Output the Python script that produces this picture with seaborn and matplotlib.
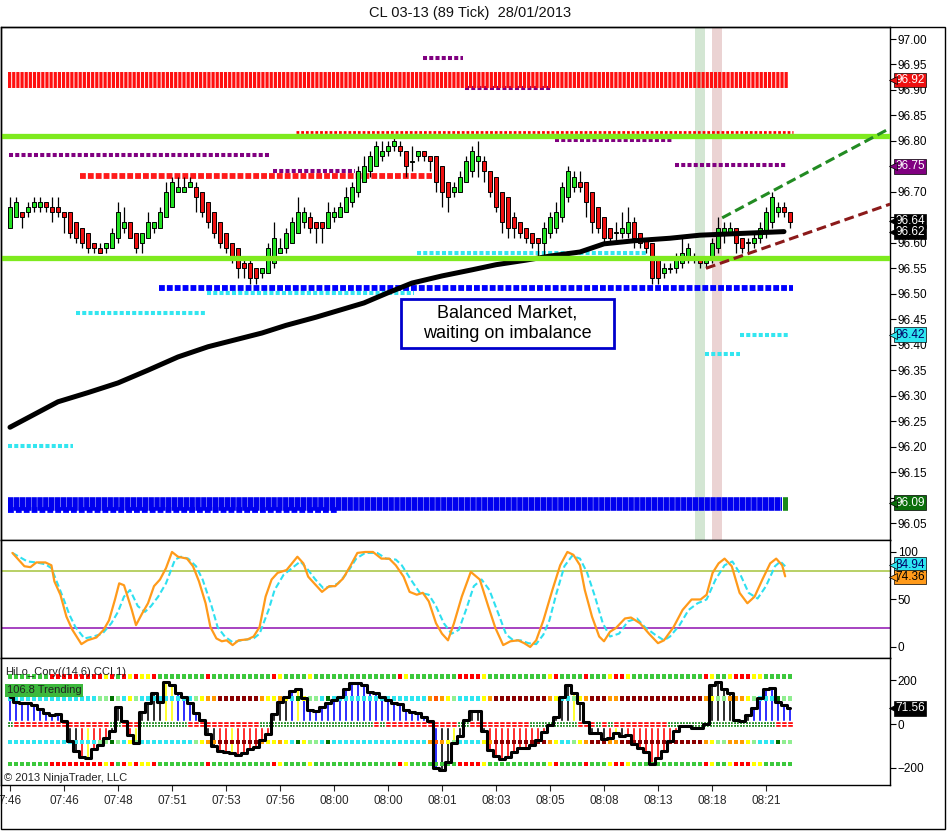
import matplotlib
matplotlib.use("Agg")
import matplotlib.pyplot as plt
import matplotlib.transforms as mtransforms
from matplotlib.patches import Rectangle
import numpy as np
import seaborn as sns

sns.set_style("white")
plt.rcParams["font.family"] = ["Liberation Sans", "DejaVu Sans"]

# ------------------------------ data (one entry per 89-tick bar)

OPEN = [96.63, 96.65, 96.66, 96.66, 96.67, 96.67, 96.68, 96.67, 96.67, 96.66,
        96.66, 96.64, 96.63, 96.62, 96.60, 96.59, 96.59, 96.59, 96.61, 96.63,
        96.64, 96.62, 96.60, 96.61, 96.63, 96.63, 96.65, 96.67, 96.70, 96.70,
        96.71, 96.71, 96.70, 96.68, 96.66, 96.64, 96.62, 96.60, 96.59, 96.56,
        96.56, 96.55, 96.54, 96.54, 96.56, 96.58, 96.59, 96.60, 96.62, 96.64,
        96.65, 96.64, 96.64, 96.63, 96.65, 96.65, 96.66, 96.68, 96.70, 96.72,
        96.74, 96.75, 96.77, 96.78, 96.79, 96.79, 96.78, 96.76, 96.77, 96.78,
        96.77, 96.77, 96.75, 96.72, 96.70, 96.70, 96.72, 96.74, 96.76, 96.76,
        96.74, 96.73, 96.70, 96.69, 96.65, 96.64, 96.63, 96.62, 96.61, 96.60,
        96.62, 96.63, 96.65, 96.69, 96.71, 96.72, 96.72, 96.70, 96.67, 96.65,
        96.63, 96.62, 96.62, 96.62, 96.64, 96.62, 96.61, 96.60, 96.57, 96.54,
        96.55, 96.55, 96.56, 96.57, 96.57, 96.57, 96.56, 96.57, 96.59, 96.62,
        96.62, 96.63, 96.61, 96.60, 96.60, 96.61, 96.62, 96.64, 96.66, 96.67,
        96.66]
HIGH = [96.69, 96.69, 96.66, 96.68, 96.69, 96.69, 96.68, 96.69, 96.69, 96.66,
        96.66, 96.64, 96.63, 96.62, 96.60, 96.60, 96.60, 96.63, 96.68, 96.67,
        96.64, 96.62, 96.62, 96.66, 96.64, 96.67, 96.72, 96.73, 96.73, 96.73,
        96.73, 96.72, 96.70, 96.68, 96.66, 96.64, 96.62, 96.60, 96.59, 96.57,
        96.57, 96.55, 96.55, 96.60, 96.64, 96.61, 96.63, 96.65, 96.69, 96.67,
        96.66, 96.64, 96.64, 96.68, 96.67, 96.68, 96.71, 96.72, 96.75, 96.77,
        96.78, 96.80, 96.80, 96.80, 96.81, 96.80, 96.78, 96.79, 96.78, 96.78,
        96.77, 96.77, 96.75, 96.72, 96.72, 96.74, 96.77, 96.79, 96.80, 96.77,
        96.74, 96.73, 96.70, 96.69, 96.66, 96.64, 96.63, 96.62, 96.61, 96.64,
        96.66, 96.68, 96.72, 96.75, 96.74, 96.74, 96.72, 96.70, 96.67, 96.65,
        96.63, 96.64, 96.66, 96.67, 96.65, 96.62, 96.61, 96.60, 96.57, 96.56,
        96.56, 96.58, 96.61, 96.60, 96.58, 96.57, 96.57, 96.61, 96.65, 96.64,
        96.64, 96.63, 96.61, 96.61, 96.62, 96.64, 96.67, 96.70, 96.68, 96.68,
        96.66]
LOW = [96.63, 96.65, 96.63, 96.65, 96.66, 96.66, 96.66, 96.64, 96.65, 96.62,
       96.61, 96.60, 96.59, 96.58, 96.58, 96.58, 96.58, 96.59, 96.60, 96.62,
       96.61, 96.58, 96.58, 96.61, 96.62, 96.63, 96.65, 96.67, 96.70, 96.70,
       96.71, 96.66, 96.65, 96.63, 96.61, 96.59, 96.58, 96.56, 96.53, 96.53,
       96.52, 96.52, 96.53, 96.54, 96.55, 96.58, 96.58, 96.60, 96.62, 96.63,
       96.62, 96.60, 96.60, 96.63, 96.64, 96.65, 96.66, 96.67, 96.69, 96.72,
       96.73, 96.75, 96.76, 96.77, 96.78, 96.77, 96.73, 96.74, 96.76, 96.76,
       96.74, 96.70, 96.67, 96.66, 96.69, 96.70, 96.72, 96.73, 96.73, 96.72,
       96.69, 96.66, 96.62, 96.61, 96.61, 96.61, 96.60, 96.59, 96.57, 96.57,
       96.61, 96.62, 96.64, 96.68, 96.70, 96.70, 96.65, 96.62, 96.62, 96.60,
       96.60, 96.60, 96.61, 96.61, 96.59, 96.59, 96.58, 96.52, 96.52, 96.53,
       96.54, 96.54, 96.55, 96.56, 96.56, 96.55, 96.55, 96.56, 96.58, 96.60,
       96.62, 96.58, 96.58, 96.58, 96.59, 96.60, 96.61, 96.63, 96.65, 96.65,
       96.63]
CLOSE = [96.67, 96.68, 96.65, 96.67, 96.68, 96.68, 96.67, 96.66, 96.66, 96.65,
         96.62, 96.61, 96.60, 96.59, 96.59, 96.58, 96.60, 96.62, 96.66, 96.64,
         96.61, 96.59, 96.62, 96.64, 96.64, 96.66, 96.70, 96.72, 96.71, 96.71,
         96.72, 96.69, 96.66, 96.64, 96.62, 96.60, 96.59, 96.57, 96.55, 96.55,
         96.53, 96.53, 96.55, 96.59, 96.61, 96.59, 96.62, 96.64, 96.66, 96.66,
         96.63, 96.63, 96.63, 96.66, 96.66, 96.67, 96.69, 96.71, 96.74, 96.75,
         96.77, 96.79, 96.78, 96.79, 96.80, 96.78, 96.75, 96.76, 96.78, 96.77,
         96.76, 96.72, 96.70, 96.69, 96.71, 96.73, 96.76, 96.78, 96.77, 96.74,
         96.70, 96.67, 96.64, 96.63, 96.63, 96.62, 96.61, 96.60, 96.60, 96.63,
         96.65, 96.66, 96.71, 96.74, 96.73, 96.71, 96.68, 96.64, 96.63, 96.61,
         96.61, 96.62, 96.63, 96.64, 96.61, 96.60, 96.59, 96.53, 96.53, 96.55,
         96.55, 96.57, 96.58, 96.59, 96.57, 96.56, 96.57, 96.60, 96.63, 96.63,
         96.63, 96.60, 96.59, 96.60, 96.61, 96.63, 96.66, 96.69, 96.67, 96.66,
         96.64]

TIME_LABELS = ["7:46", "07:46", "07:48", "07:51", "07:53", "07:56", "08:00", "08:00",
               "08:01", "08:03", "08:05", "08:08", "08:13", "08:18", "08:21"]

# moving average (black) read at a few bars
MA_POS = [0, 4, 8, 13, 18, 23, 28, 33, 37, 42, 46, 51, 55, 59, 63, 67, 72, 77, 81,
          86, 90, 95, 99, 104, 110, 115, 121, 125, 129]
MA_VAL = [96.238, 96.263, 96.288, 96.306, 96.325, 96.350, 96.376, 96.396, 96.408,
          96.423, 96.438, 96.454, 96.468, 96.482, 96.502, 96.521, 96.535, 96.547,
          96.557, 96.566, 96.574, 96.582, 96.598, 96.604, 96.609, 96.615, 96.618,
          96.620, 96.622]

# horizontal levels: price, first bar, last bar, kind
LEVEL_PRICE = [96.963, 96.904, 96.817, 96.772, 96.732, 96.741, 96.802, 96.753,
               96.580, 96.511, 96.501, 96.462, 96.419, 96.382, 96.201, 96.076]
LEVEL_START = [68.8, 75.8, 47.7, -0.2, 11.7, 43.8, 90.8, 110.8,
               67.8, 24.8, 32.8, 11.0, 121.7, 115.8, -0.3, -0.3]
LEVEL_END = [75.5, 90.3, 130.5, 43.5, 70.3, 57.5, 110.5, 129.3,
             106.2, 130.5, 67.3, 32.5, 129.7, 121.7, 10.5, 54.7]
LEVEL_KIND = ["purple", "purple", "red_thin", "purple", "red", "purple", "purple", "purple",
              "cyan", "blue", "cyan", "cyan", "cyan", "cyan", "cyan", "blue"]

BAND_PRICE = [96.919, 96.088]
BAND_START = [-0.3, -0.3]
BAND_END = [129.7, 128.7]

GREEN_LEVELS = [96.810, 96.570]

TREND_GREEN = ([118.7, 146.7], [96.649, 96.825])
TREND_RED = ([116.0, 146.7], [96.550, 96.676])

SHADE_GREEN = (114.2, 115.9)
SHADE_RED = (117.0, 118.7)

# stochastics
K_POS = [0.4, 2.4, 3.4, 4.4, 5.9, 6.9, 7.4, 8.4, 9.4, 10.4, 11.9, 12.9, 14.4, 15.6, 16.5,
         17.5, 18.2, 19.0, 20.3, 21.0, 22.0, 23.0, 24.0, 25.0, 26.0, 27.0, 28.0, 29.5, 30.5,
         31.5, 32.6, 33.4, 34.4, 35.3, 36.1, 37.1, 38.1, 39.6, 40.6, 41.6, 42.6, 43.6, 44.6,
         46.1, 47.9, 48.9, 49.7, 50.7, 52.0, 53.2, 54.2, 55.5, 56.7, 57.9, 59.2, 60.5, 61.9,
         63.2, 64.3, 65.6, 66.6, 67.8, 68.8, 69.8, 71.0, 72.0, 73.0, 74.0, 75.3, 76.8, 78.3,
         79.7, 80.9, 82.2, 83.4, 84.7, 85.7, 86.7, 87.7, 88.9, 90.4, 91.7, 92.9, 93.9, 95.0,
         95.8, 97.0, 98.2, 99.0, 100.0, 101.0, 102.5, 103.5, 105.0, 106.5, 108.0, 109.0,
         110.6, 112.1, 113.6, 115.1, 116.1, 117.1, 118.1, 119.1, 120.3, 121.6, 122.9, 124.1,
         125.4, 126.7, 127.7, 128.7, 129.2]
K_VAL = [99, 85, 84, 89, 89, 86, 69, 55, 32, 18, 3, 7, 10, 18, 28, 50, 67, 65, 39, 23, 35,
         46, 64, 71, 83, 100, 95, 93, 85, 69, 46, 21, 9, 6, 7, 2, 7, 8, 11, 21, 53, 71, 78,
         81, 95, 88, 74, 67, 58, 64, 64, 72, 85, 99, 100, 100, 93, 93, 86, 74, 58, 55, 57, 48,
         25, 14, 7, 25, 53, 79, 71, 43, 20, 2, 6, 7, 4, 0, 7, 28, 60, 86, 100, 97, 86, 60,
         32, 11, 6, 16, 20, 30, 31, 25, 14, 4, 7, 21, 39, 50, 50, 55, 78, 88, 93, 85, 57, 46,
         53, 71, 88, 93, 86, 74.36]
D_POS = [0.4, 2.9, 4.4, 5.9, 6.9, 7.9, 8.9, 9.9, 10.9, 12.4, 13.9, 15.4, 16.9, 18.0, 19.0,
         20.0, 21.3, 22.5, 23.5, 24.7, 26.0, 27.5, 28.5, 29.7, 31.0, 32.1, 33.6, 34.6, 35.8,
         37.1, 38.6, 40.6, 41.6, 43.1, 44.1, 45.6, 46.8, 48.4, 49.7, 50.9, 52.2, 53.7, 54.7,
         56.2, 57.7, 59.2, 61.2, 62.7, 64.3, 65.3, 66.8, 68.3, 69.8, 71.0, 72.3, 73.6, 74.8,
         76.0, 77.3, 78.6, 79.9, 81.4, 82.7, 83.9, 85.1, 86.4, 87.7, 88.9, 89.9, 91.1, 92.4,
         93.7, 95.0, 96.2, 97.5, 98.8, 100.0, 101.5, 103.0, 104.5, 105.8, 107.5, 109.0, 110.0,
         111.6, 113.1, 114.6, 116.1, 117.6, 119.1, 120.4, 121.6, 123.1, 124.6, 126.0, 127.5,
         128.4, 129.2]
D_VAL = [99, 90, 89, 87, 83, 67, 51, 34, 21, 9, 11, 14, 25, 37, 53, 60, 43, 37, 43, 53, 67,
         92, 95, 93, 85, 71, 43, 21, 11, 5, 7, 9, 14, 39, 60, 76, 82, 90, 81, 71, 62, 64, 67,
         78, 93, 99, 99, 93, 92, 86, 71, 57, 55, 43, 25, 14, 18, 39, 64, 71, 60, 35, 13, 7, 7,
         4, 3, 13, 28, 57, 85, 96, 93, 78, 53, 25, 11, 14, 27, 30, 21, 13, 7, 11, 23, 39, 46,
         50, 71, 86, 90, 78, 57, 51, 64, 85, 90, 84.94]

# CCI histogram and states
CCI = [125, 100, 95, 98, 85, 70, 50, 41, 45, 15,
       -80, -125, -150, -157, -115, -95, -65, -30, 80, 15,
       -51, -87, 57, 98, 142, 102, 195, 178, 142, 126,
       95, 50, 20, -45, -100, -125, -127, -135, -143, -133,
       -115, -105, -74, -45, 45, 100, 125, 150, 159, 120,
       64, 60, 80, 95, 110, 126, 160, 188, 188, 178,
       145, 142, 125, 110, 95, 90, 62, 57, 50, 33,
       15, -200, -210, -175, -87, -55, 20, 60, 60, -30,
       -120, -145, -160, -150, -130, -110, -110, -95, -75, -35,
       -5, 30, 126, 181, 142, 95, 10, -40, -40, -70,
       -65, -40, -55, -50, -90, -110, -130, -185, -155, -125,
       -80, -30, -10, -10, -20, -20, 0, 181, 195, 160,
       142, 20, 15, 40, 75, 120, 160, 165, 100, 87, 71.56]
HIST_STATE = ("bbbbbbbbbk" "kkryrrrkkk" "ryk" "kkkyyb" "bbbbk" "krryrrrrrrk"
              "kkbybbbbbbbbbbbbbbbbbbbbbbb" "kkykkkkk" "rrrrrrrrrrrk" "kkyk"
              "kkkkryk" "rrrrrrrrrr" "kkkkk" "kkkykk" "bbbbbbbk")
ZERO_STATE = ("g" + "r" * 16 + "gg" + "rrr" + "g" * 8 + "r" * 12 + "g" * 19 + "r" + "g"
              + "r" * 12 + "gg" + "r" * 10 + "g" * 8 + "rrr" + "g" + "r" + "g" + "r" * 9
              + "g" * 18 + "rrr")
ROW_A = ("ggggggg" "rrrrrrrrr" "yrgryryyrg" "ggggggg" "r" "gggggggggg" "ry" "gggg" "y"
         "gggggggggggggg" "ry" "gggggggg" "rrrr" "y" "gggggggggg" "yr" "gggg" "r" "ggg"
         "yrry" "gggggggggggg" "rygg" "yrrryy" "ggggg")
ROW_B = ("c" * 15 + "llGlcyl" + "c" * 9 + "lyoo" + "d" * 7 + "oyyoycGyllcG" + "c" * 16
         + "onoyl" + "cccc" + "yo" + "d" * 9 + "oyccly" + "o" + "ddd" + "oo" + "d" * 14
         + "oylloooyl" + "ccc" + "Gll")
ROW_LEVELS = [217, 116, -83, -184]

# ------------------------------ styling

W, H = 947, 831
UP = "#22e022"
DOWN = "#ee1111"
DOT_COLORS = {"g": "#3cc83c", "r": "#ff0000", "y": "#ffff00", "c": "#2ee6f0",
              "l": "#90ee90", "o": "#ff9900", "d": "#8b0000", "G": "#007000", "n": "#ff5500"}
HIST_COLORS = {"b": "#0000ff", "r": "#ff0000", "y": "#ffff00", "k": "#000000"}
LEVEL_STYLE = {
    "purple": dict(color="#800080", lw=2.9, dashes=(1, 0.55)),
    "red_thin": dict(color="#ff0000", lw=2.0, dashes=(1, 0.7)),
    "red": dict(color="#ff1a1a", lw=4.2, dashes=(1, 0.35)),
    "blue": dict(color="#0000ff", lw=4.2, dashes=(1, 0.35)),
    "cyan": dict(color="#33e6f0", lw=2.9, dashes=(1, 0.55)),
}
XMIN, XMAX = -1.5, 146.67


def px_axes(fig, x0, y0, x1, y1):
    return fig.add_axes([x0 / W, 1 - y1 / H, (x1 - x0) / W, (y1 - y0) / H])


def price_tag(a, y, text, fc, tc="white", at=None):
    # at: where the tag is drawn if it has to sit a little off its value
    trans = mtransforms.blended_transform_factory(a.transAxes, a.transData)
    ty = y if at is None else at
    a.text(1.0 + 5 / 889, ty, text, transform=trans, ha="left", va="center",
           fontsize=8.5, color=tc, clip_on=False, zorder=20,
           bbox=dict(boxstyle="square,pad=0.1", fc=fc, ec="black", lw=0.5))
    a.plot([1.0 + 3 / 889], [ty], marker="<", ms=6, color=fc, mec="black", mew=0.5,
           transform=trans, clip_on=False, zorder=21)


def style_axes(a):
    a.set_xlim(XMIN, XMAX)
    for s in a.spines.values():
        s.set_color("black")
        s.set_linewidth(1)
    a.yaxis.tick_right()
    a.tick_params(axis="y", direction="out", length=4, width=0.8, pad=1.5,
                  labelsize=8.5, colors="black", left=False, right=True)
    a.tick_params(axis="x", bottom=False, labelbottom=False)
    a.set_xlabel("")
    a.set_ylabel("")
    a.grid(False)


fig = plt.figure(figsize=(W / 100, H / 100), dpi=100)
ax = px_axes(fig, 1, 27, 890, 540)
ax_st = px_axes(fig, 1, 540, 890, 658)
ax_cci = px_axes(fig, 1, 658, 890, 785)

bars = np.arange(len(CLOSE))

# ------------------------------ price panel
ax.axvspan(*SHADE_GREEN, color="#d3e6d3", zorder=0, lw=0)
ax.axvspan(*SHADE_RED, color="#ebd3d3", zorder=0, lw=0)

for p, x0, x1, kind in zip(LEVEL_PRICE, LEVEL_START, LEVEL_END, LEVEL_KIND):
    st = LEVEL_STYLE[kind]
    ax.plot([x0, x1], [p, p], color=st["color"], lw=st["lw"], linestyle=(0, st["dashes"]),
            dash_capstyle="butt", solid_capstyle="butt", zorder=2)

ax.plot([BAND_START[0], BAND_END[0]], [BAND_PRICE[0]] * 2, color="#ff1010", lw=11.5,
        linestyle=(0, (0.2, 0.06)), dash_capstyle="butt", zorder=2)
ax.plot([BAND_START[1], BAND_END[1]], [BAND_PRICE[1]] * 2, color="#0000ee", lw=9.8,
        linestyle=(0, (0.4, 0.03)), dash_capstyle="butt", zorder=2)
ax.plot([BAND_END[1] + 0.2, BAND_END[1] + 0.9], [BAND_PRICE[1]] * 2, color="#1a8a1a",
        lw=9.8, solid_capstyle="butt", zorder=2)

o, h, l, c = map(np.array, (OPEN, HIGH, LOW, CLOSE))
body_h = np.maximum(np.abs(c - o), 0.0025)
body_lo = (o + c) / 2 - body_h / 2
ax.vlines(bars, l, h, color="black", lw=0.9, zorder=3)
ax.bar(bars, body_h, bottom=body_lo, width=0.82, color=np.where(c >= o, UP, DOWN),
       edgecolor="black", linewidth=0.7, zorder=4)

sns.lineplot(x=MA_POS, y=MA_VAL, ax=ax, color="black", lw=3.6, zorder=5)

for g in GREEN_LEVELS:
    ax.axhline(g, color="#7eea1e", lw=3.8, zorder=6)

ax.plot(*TREND_GREEN, color="#228b22", lw=2.2, linestyle=(0, (3.2, 1.6)), zorder=6)
ax.plot(*TREND_RED, color="#8b1a1a", lw=2.2, linestyle=(0, (3.2, 1.6)), zorder=6)

ax.add_patch(Rectangle((65.2, 96.3935), 35.5, 0.0962, fc="white", ec="#0000cc", lw=2, zorder=8))
ax.text(82.9, 96.4416, "Balanced Market,\nwaiting on imbalance", ha="center", va="center",
        fontsize=13, linespacing=1.25, color="black", zorder=9)

style_axes(ax)
ax.set_ylim(96.0167, 97.0236)
ticks = np.round(np.arange(96.05, 97.001, 0.05), 2)
hidden = {96.10, 96.65, 96.75}
ax.set_yticks(ticks)
ax.set_yticklabels(["" if t in hidden else f"{t:.2f}" for t in ticks])

price_tag(ax, 96.92, "96.92", "#ee1111")
price_tag(ax, 96.75, "96.75", "#800080")
price_tag(ax, 96.64, "96.64", "black", at=96.643)
price_tag(ax, 96.62, "96.62", "black", at=96.621)
price_tag(ax, 96.42, "96.42", "#2ee6f0", tc="#000066")
price_tag(ax, 96.09, "96.09", "#0a6e0a")

# ------------------------------ stochastics panel
ax_st.axhline(80, color="#a4c43c", lw=1.1, zorder=1)
ax_st.axhline(20, color="#8e10b0", lw=1.1, zorder=1)
sns.lineplot(x=D_POS, y=D_VAL, ax=ax_st, color="#2ee0f0", lw=1.5, linestyle=(0, (3, 1.5)),
             sort=False, zorder=2)
sns.lineplot(x=K_POS, y=K_VAL, ax=ax_st, color="#ff9a1a", lw=1.6, sort=False, zorder=3)
style_axes(ax_st)
ax_st.set_ylim(-11.6, 112.6)
ax_st.set_yticks([0, 50, 100])
price_tag(ax_st, 84.94, "84.94", "#2ee6f0", tc="#000066", at=86.8)
price_tag(ax_st, 74.36, "74.36", "#ff9a1a", tc="black", at=73.6)

# ------------------------------ CCI panel
for lvl, pattern in zip(ROW_LEVELS, [ROW_A, ROW_B, ROW_B, ROW_A]):
    ax_cci.scatter(bars, [lvl] * len(bars), c=[DOT_COLORS[k] for k in pattern],
                   marker="s", s=12, linewidths=0, zorder=3)

ax_cci.bar(bars, CCI, width=0.5, color=[HIST_COLORS[k] for k in HIST_STATE], zorder=2)
ax_cci.bar(bars, 28, bottom=-14, width=1.0,
           color=["#007a00" if k == "g" else "#ff0000" for k in ZERO_STATE], zorder=4)
gmask = np.array([k == "g" for k in ZERO_STATE])
ax_cci.scatter(bars[gmask], np.zeros(gmask.sum()), marker="+", s=14, color="white",
               linewidths=0.8, zorder=5)
ax_cci.scatter(bars[~gmask], np.zeros((~gmask).sum()), marker="_", s=14, color="white",
               linewidths=0.8, zorder=5)
ax_cci.step(bars, CCI, where="mid", color="black", lw=2.2, zorder=6)

style_axes(ax_cci)
ax_cci.set_ylim(-280, 303)
ax_cci.set_yticks([-200, 0, 200])
ax_cci.set_xticks(bars[::9])
ax_cci.set_xticklabels(TIME_LABELS)
ax_cci.tick_params(axis="x", bottom=True, labelbottom=True, direction="out", length=4,
                   width=0.8, pad=3, labelsize=8.5)
price_tag(ax_cci, 71.56, "71.56", "black")

ax_cci.text(4 / 889, 0.89, "HiLo_Cory((14,6),CCI,1)", transform=ax_cci.transAxes,
            fontsize=8, color="#222222", va="center", ha="left", zorder=10)
ax_cci.text(6 / 889, 0.745, "106.8 Trending", transform=ax_cci.transAxes, fontsize=8,
            color="#222222", va="center", ha="left", zorder=10,
            bbox=dict(boxstyle="square,pad=0.15", fc="#3cb83c", ec="none"))
ax_cci.text(3 / 889, 0.055, "\u00a9 2013 NinjaTrader, LLC", transform=ax_cci.transAxes,
            fontsize=8, color="#222222", va="center", ha="left", zorder=10)

# ------------------------------ frame and title
fig.add_artist(Rectangle((1 / W, 1 - 829 / H), 944 / W, 802 / H, transform=fig.transFigure,
                         fill=False, ec="black", lw=1))
fig.text(470 / W, 1 - 13 / H, "CL 03-13 (89 Tick)  28/01/2013", ha="center", va="center",
         fontsize=10.5, color="#111111")

fig.savefig("out.png", dpi=100)
